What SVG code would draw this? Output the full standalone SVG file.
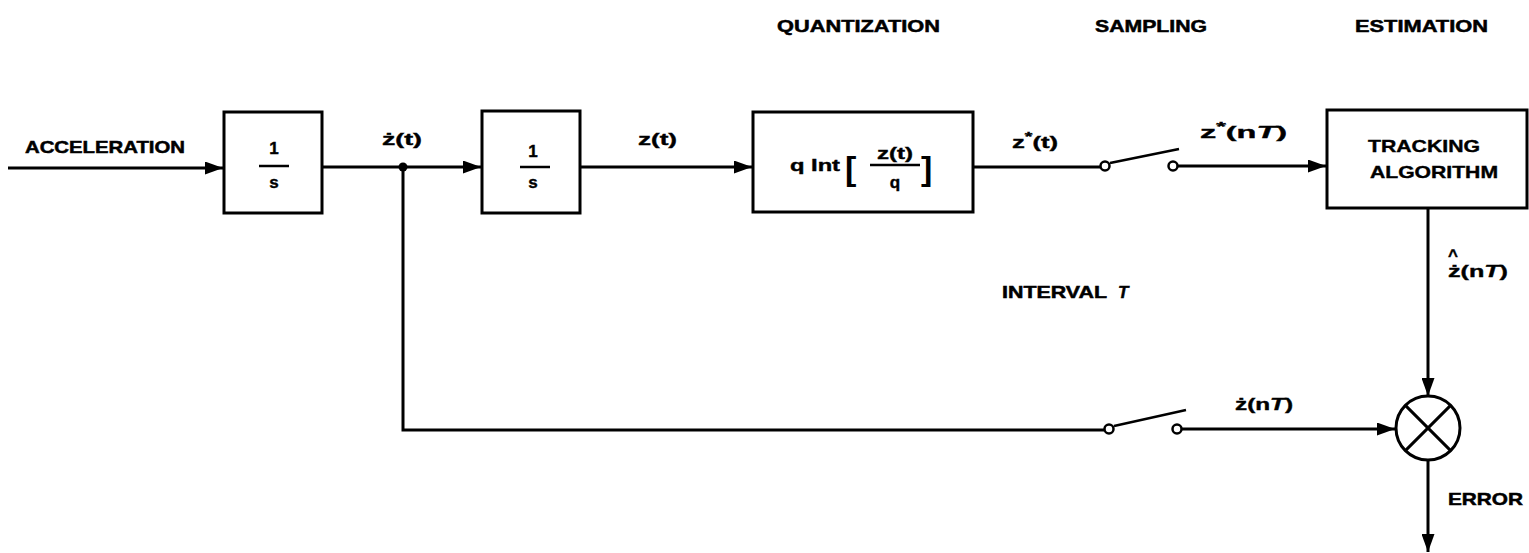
<svg xmlns="http://www.w3.org/2000/svg" width="1529" height="553" viewBox="0 0 1529 553">
<style>
  .bg { fill: #ffffff; }
  .box { fill: #ffffff; stroke: #000; stroke-width: 3; }
  .ln { fill: none; stroke: #000; stroke-width: 3; }
  .thin { fill: none; stroke: #000; stroke-width: 2.5; }
  .sw { fill: #ffffff; stroke: #000; stroke-width: 2.5; }
  .t { font-family: "Liberation Sans", Arial, sans-serif; font-weight: bold; fill: #000; stroke: #000; stroke-width: 0.5; font-size: 17px; }
  .m { font-family: "Liberation Sans", Arial, sans-serif; font-weight: bold; fill: #000; stroke: #000; stroke-width: 0.4; font-size: 17px; }
  .br { font-family: "Liberation Sans", Arial, sans-serif; font-weight: bold; fill: #000; font-size: 34px; }
</style>
<defs>
  <marker id="arr" markerUnits="userSpaceOnUse" markerWidth="18" markerHeight="13" refX="18" refY="6.5" orient="auto">
    <path d="M0,0 L18,6.5 L0,13 z" fill="#000"/>
  </marker>
</defs>
<rect class="bg" x="0" y="0" width="1529" height="553"/>

<!-- stage titles -->
<g id="titles">
  <text class="t" x="777" y="32" textLength="163" lengthAdjust="spacingAndGlyphs">QUANTIZATION</text>
  <text class="t" x="1095" y="32" textLength="112" lengthAdjust="spacingAndGlyphs">SAMPLING</text>
  <text class="t" x="1355" y="32" textLength="133" lengthAdjust="spacingAndGlyphs">ESTIMATION</text>
</g>

<!-- connectors -->
<g id="connectors">
  <line class="ln" x1="8" y1="168" x2="223" y2="168" marker-end="url(#arr)"/>
  <line class="ln" x1="322" y1="167" x2="481" y2="167" marker-end="url(#arr)"/>
  <line class="ln" x1="581" y1="167" x2="752" y2="167" marker-end="url(#arr)"/>
  <line class="ln" x1="973" y1="167" x2="1100" y2="167"/>
  <line class="ln" x1="1178" y1="166" x2="1326" y2="166" marker-end="url(#arr)"/>
  <polyline class="ln" points="403,167 403,430 1104,430"/>
  <line class="ln" x1="1182" y1="429" x2="1395" y2="429" marker-end="url(#arr)"/>
  <line class="ln" x1="1428" y1="208" x2="1428" y2="396" marker-end="url(#arr)"/>
  <line class="ln" x1="1428" y1="460" x2="1428" y2="552" marker-end="url(#arr)"/>
  <circle cx="403" cy="167" r="4.5" fill="#000"/>
</g>

<!-- input label -->
<g id="acceleration">
  <text class="t" x="25" y="153" textLength="160" lengthAdjust="spacingAndGlyphs">ACCELERATION</text>
</g>

<!-- integrator 1 -->
<g id="integrator1">
  <rect class="box" x="224" y="112" width="98" height="101"/>
  <text class="m" x="274" y="154" text-anchor="middle" font-size="19">1</text>
  <line class="thin" x1="259" y1="166" x2="289" y2="166"/>
  <text class="m" x="274" y="188" text-anchor="middle" font-size="22">s</text>
</g>

<g id="label-zdot-t">
  <text class="m" x="382" y="145" textLength="40" lengthAdjust="spacingAndGlyphs">ż(t)</text>
</g>

<!-- integrator 2 -->
<g id="integrator2">
  <rect class="box" x="482" y="111" width="98" height="102"/>
  <text class="m" x="533" y="157" text-anchor="middle" font-size="19">1</text>
  <line class="thin" x1="520" y1="167" x2="550" y2="167"/>
  <text class="m" x="533" y="188" text-anchor="middle" font-size="22">s</text>
</g>

<g id="label-z-t">
  <text class="m" x="638" y="145" textLength="39" lengthAdjust="spacingAndGlyphs">z(t)</text>
</g>

<!-- quantizer -->
<g id="quantizer">
  <rect class="box" x="753" y="112" width="220" height="100"/>
  <text class="m" x="790" y="171" textLength="50" lengthAdjust="spacingAndGlyphs">q Int</text>
  <text class="br" x="845" y="180">[</text>
  <text class="m" x="877" y="159" textLength="36" lengthAdjust="spacingAndGlyphs">z(t)</text>
  <line class="thin" x1="870" y1="165" x2="920" y2="165"/>
  <text class="m" x="895" y="188" text-anchor="middle" font-size="19">q</text>
  <text class="br" x="921" y="180">]</text>
</g>

<g id="label-zstar-t">
  <text class="m" x="1012" y="148" textLength="46" lengthAdjust="spacingAndGlyphs">z<tspan dy="-7" font-size="13">*</tspan><tspan dy="7">(t)</tspan></text>
</g>

<!-- sampler 1 -->
<g id="sampler1">
  <line class="thin" x1="1110" y1="163" x2="1179" y2="149"/>
  <circle class="sw" cx="1105" cy="166" r="4.5"/>
  <circle class="sw" cx="1173" cy="166" r="4.5"/>
</g>

<g id="label-zstar-nT">
  <text class="m" x="1200" y="138" textLength="87" lengthAdjust="spacingAndGlyphs">z<tspan dy="-7" font-size="13">*</tspan><tspan dy="7">(n</tspan><tspan font-style="italic">T</tspan>)</text>
</g>

<!-- tracking algorithm -->
<g id="tracking">
  <rect class="box" x="1327" y="110" width="200" height="98"/>
  <text class="m" x="1368" y="152" font-size="16" textLength="112" lengthAdjust="spacingAndGlyphs">TRACKING</text>
  <text class="m" x="1370" y="178" font-size="16" textLength="128" lengthAdjust="spacingAndGlyphs">ALGORITHM</text>
</g>

<g id="label-zhat">
  <text class="m" x="1448" y="261">^</text>
  <text class="m" x="1448" y="277" textLength="60" lengthAdjust="spacingAndGlyphs">ż(n<tspan font-style="italic">T</tspan>)</text>
</g>

<g id="label-interval">
  <text class="t" x="1002" y="298" textLength="105" lengthAdjust="spacingAndGlyphs">INTERVAL</text>
  <text class="t" x="1118" y="298" font-style="italic">T</text>
</g>

<!-- sampler 2 -->
<g id="sampler2">
  <line class="thin" x1="1114" y1="426" x2="1186" y2="410"/>
  <circle class="sw" cx="1109" cy="429" r="4.5"/>
  <circle class="sw" cx="1177" cy="429" r="4.5"/>
</g>

<g id="label-zdot-nT">
  <text class="m" x="1235" y="410" textLength="58" lengthAdjust="spacingAndGlyphs">ż(n<tspan font-style="italic">T</tspan>)</text>
</g>

<!-- summing junction -->
<g id="comparator">
  <circle class="box" cx="1428" cy="428" r="32"/>
  <line class="ln" x1="1405.4" y1="405.4" x2="1450.6" y2="450.6"/>
  <line class="ln" x1="1450.6" y1="405.4" x2="1405.4" y2="450.6"/>
</g>

<g id="label-error">
  <text class="t" x="1448" y="505" textLength="75" lengthAdjust="spacingAndGlyphs">ERROR</text>
</g>
</svg>
